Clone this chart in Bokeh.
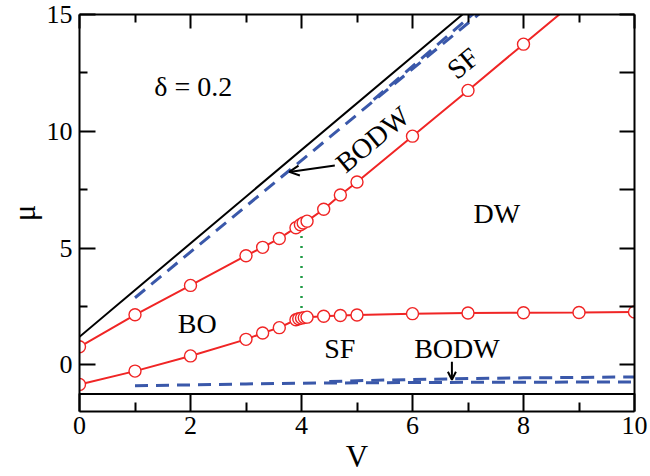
import math
from bokeh.plotting import figure
from bokeh.models import (Range1d, LinearAxis, FixedTicker, Label, Arrow, OpenHead,
                          CustomLabelingPolicy)
from bokeh.embed import file_html
from bokeh.resources import INLINE

# ---- data ----
V_upper = [0, 1, 2, 3, 3.3, 3.6, 3.9, 3.98, 4.03, 4.1, 4.4, 4.7, 5, 6, 7, 8, 9]
mu_upper = [0.77, 2.14, 3.40, 4.67, 5.03, 5.41, 5.87, 6.0, 6.07, 6.15, 6.66, 7.27, 7.83, 9.79, 11.75, 13.73, 15.7]
V_lower = [0, 1, 2, 3, 3.3, 3.6, 3.9, 3.95, 4.0, 4.05, 4.1, 4.4, 4.7, 5, 6, 7, 8, 9, 10]
mu_lower = [-0.84, -0.27, 0.38, 1.09, 1.36, 1.59, 1.93, 1.97, 2.0, 2.02, 2.04, 2.08, 2.11, 2.13, 2.19, 2.22, 2.23, 2.24, 2.26]
V_black = [0, 7.5]
mu_black = [1.2, 16.2]
V_bodw_up1 = [1, 7.5]
mu_bodw_up1 = [2.87, 15.61]
V_bodw_up2 = [5.3, 7.5]
mu_bodw_up2 = [11.35, 15.86]
V_bodw_lo1 = [1, 2, 3, 4, 5, 6, 7, 8, 9, 10]
mu_bodw_lo1 = [-0.9, -0.86, -0.82, -0.79, -0.77, -0.76, -0.75, -0.75, -0.74, -0.74]
V_bodw_lo2 = [4.5, 5, 6, 7, 8, 9, 10]
mu_bodw_lo2 = [-0.72, -0.68, -0.63, -0.59, -0.56, -0.54, -0.52]
V_base = [0, 10]
mu_base = [-1.25, -1.25]
V_green = [4, 4]
mu_green = [2.0, 6.0]
x_ticks = [0, 2, 4, 6, 8, 10]
x_minor = [1, 3, 5, 7, 9]
y_ticks = [0, 5, 10, 15]
y_minor = [2.5, 7.5, 12.5]
x_title = "V"
y_title = "μ"

RED = "#f02525"
BLUE = "#3a58aa"
GREEN = "#1f9a45"
FONT = "Liberation Serif"

p = figure(width=648, height=476, output_backend="svg", toolbar_location=None,
           x_range=Range1d(0, 10), y_range=Range1d(-2, 15),
           min_border_left=79, min_border_right=13, min_border_top=14, min_border_bottom=65)
p.grid.visible = False
p.outline_line_color = None
p.background_fill_color = "white"
p.border_fill_color = "white"

hide_labels = CustomLabelingPolicy(code="""
for (const i of indices) { indices.unset(i) }
return indices
""")

def style(ax, major_in, minor_in, labels=True):
    ax.axis_line_width = 2
    ax.major_tick_line_width = 2
    ax.minor_tick_line_width = 2
    ax.major_tick_in = major_in
    ax.major_tick_out = 0
    ax.minor_tick_in = minor_in
    ax.minor_tick_out = 0
    if labels:
        ax.major_label_text_font = FONT
        ax.major_label_text_font_size = "26px"
        ax.major_label_text_color = "black"
        ax.axis_label_text_font = FONT
        ax.axis_label_text_font_style = "normal"
        ax.axis_label_text_font_size = "31px"
        ax.axis_label_text_color = "black"
    else:
        ax.major_label_text_font_size = "10px"
        ax.major_label_standoff = 0
        ax.major_label_policy = hide_labels

xa = p.xaxis[0]
xa.ticker = FixedTicker(ticks=x_ticks, minor_ticks=x_minor)
xa.axis_label = x_title
style(xa, 18, 9)
xa.major_label_standoff = 5
xa.axis_label_standoff = 2

ya = p.yaxis[0]
ya.ticker = FixedTicker(ticks=y_ticks, minor_ticks=y_minor)
ya.axis_label = y_title
style(ya, 16, 8)
ya.major_label_standoff = 7
ya.axis_label_standoff = 2

top = LinearAxis(ticker=FixedTicker(ticks=x_ticks, minor_ticks=x_minor))
style(top, 14, 8, labels=False)
p.add_layout(top, "above")
right = LinearAxis(ticker=FixedTicker(ticks=y_ticks, minor_ticks=y_minor))
style(right, 15, 15, labels=False)
p.add_layout(right, "right")

# lines
p.line(V_base, mu_base, line_color="black", line_width=2)
p.line(V_black, mu_black, line_color="black", line_width=2)
for xs, ys in [(V_bodw_up1, mu_bodw_up1), (V_bodw_up2, mu_bodw_up2),
               (V_bodw_lo1, mu_bodw_lo1), (V_bodw_lo2, mu_bodw_lo2)]:
    p.line(xs, ys, line_color=BLUE, line_width=3, line_dash="13 8")
p.line(V_green, mu_green, line_color=GREEN, line_width=2.5, line_dash="2 8")
for xs, ys in [(V_upper, mu_upper), (V_lower, mu_lower)]:
    p.line(xs, ys, line_color=RED, line_width=2)
    p.scatter(xs, ys, marker="circle", size=12, fill_color="white",
              line_color=RED, line_width=1.4)

# labels
ang = math.atan(1.96 * 23.47 / 55.6)
labels = [
    ("δ = 0.2", 2.05, 11.93, 0),
    ("BODW", 5.28, 9.65, ang),
    ("SF", 6.91, 12.91, ang),
    ("DW", 7.52, 6.48, 0),
    ("BO", 2.12, 1.75, 0),
    ("SF", 4.69, 0.68, 0),
    ("BODW", 6.8, 0.68, 0),
]
for t, x, y, a in labels:
    p.add_layout(Label(x=x, y=y, text=t, angle=a, text_align="center",
                       text_baseline="middle", text_font=FONT,
                       text_font_size="28px", text_color="black"))

p.add_layout(Arrow(x_start=4.6, y_start=8.53, x_end=3.78, y_end=8.26,
                   line_color="black", line_width=2,
                   end=OpenHead(size=10, line_color="black", line_width=2)))
p.add_layout(Arrow(x_start=6.71, y_start=0.13, x_end=6.71, y_end=-0.64,
                   line_color="black", line_width=2,
                   end=OpenHead(size=8, line_color="black", line_width=2)))

open("out.html", "w").write(file_html(p, INLINE))
